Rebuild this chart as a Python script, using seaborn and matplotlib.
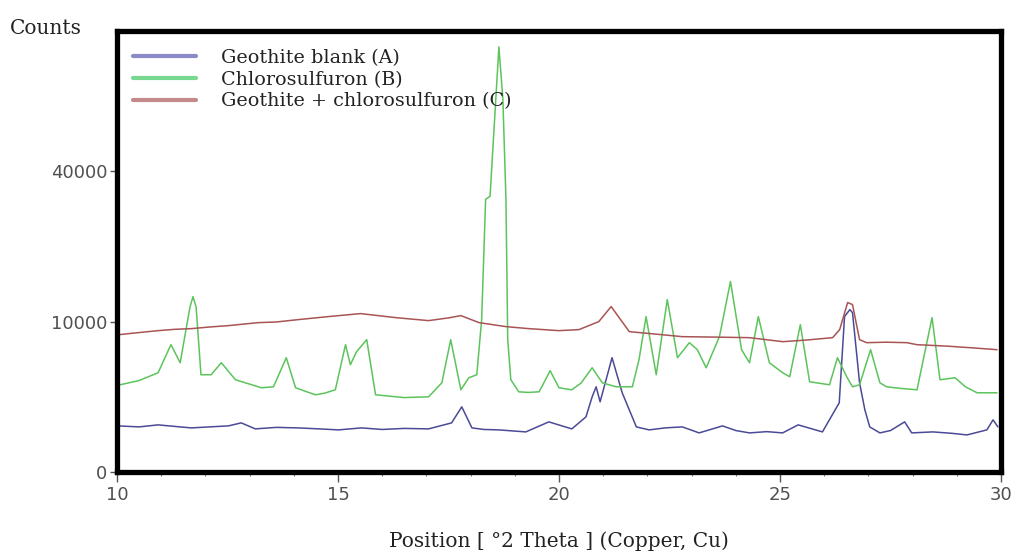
import numpy as np
import pandas as pd
import matplotlib
matplotlib.use("Agg")
import matplotlib.pyplot as plt
import seaborn as sns
from matplotlib.lines import Line2D
from matplotlib.ticker import MultipleLocator

# ---- data (2theta in degrees, intensity in counts) ----
theta_a = [10.02, 10.50, 10.93, 11.30, 11.68, 12.10, 12.52, 12.81, 13.13, 13.60, 14.10, 14.60,
           15.01, 15.53, 16.00, 16.50, 17.05, 17.57, 17.80, 18.03, 18.30, 18.64, 19.00, 19.25,
           19.77, 20.29, 20.61, 20.75, 20.84, 20.93, 21.20, 21.43, 21.75, 22.04, 22.40, 22.79,
           23.17, 23.70, 24.00, 24.31, 24.70, 25.06, 25.41, 25.96, 26.34, 26.46, 26.58, 26.64,
           26.80, 26.92, 27.03, 27.26, 27.50, 27.82, 27.98, 28.46, 28.90, 29.23, 29.68, 29.82, 29.93]
counts_a = [940, 900, 982, 920, 860, 900, 940, 1067, 822, 880, 860, 820,
            784, 860, 800, 840, 822, 1067, 1878, 860, 800, 784, 740, 711,
            1111, 822, 1344, 2500, 3211, 2178, 5776, 2774, 900, 784, 860, 900,
            676, 940, 760, 676, 720, 676, 982, 711, 2116, 10678, 11664, 11236,
            3520, 1708, 900, 676, 760, 1111, 676, 711, 660, 608, 784, 1202, 900]

theta_b = [10.07, 10.50, 10.93, 11.22, 11.43, 11.65, 11.72, 11.79, 11.90, 12.13, 12.36, 12.68, 13.27, 13.54,
           13.83, 14.04, 14.49, 14.70, 14.94, 15.17, 15.28, 15.42, 15.65, 15.85, 16.50, 17.05, 17.35,
           17.55, 17.78, 17.96, 18.14, 18.25, 18.34, 18.44, 18.53, 18.64, 18.73, 18.80, 18.84, 18.91,
           19.09, 19.30, 19.55, 19.80, 20.00, 20.29, 20.50, 20.75, 20.98, 21.29, 21.66, 21.81, 21.97,
           22.20, 22.45, 22.68, 22.95, 23.13, 23.33, 23.63, 23.88, 24.13, 24.31, 24.51, 24.76, 25.06,
           25.22, 25.46, 25.67, 26.12, 26.30, 26.51, 26.64, 26.80, 27.05, 27.26, 27.41, 27.70, 28.10,
           28.44, 28.62, 28.96, 29.20, 29.46, 29.91]
counts_b = [3364, 3700, 4356, 7168, 5280, 12000, 13611, 12000, 4182, 4182, 5280, 3762, 3136, 3211,
            5776, 3136, 2635, 2750, 2988, 7168, 5088, 6400, 7744, 2635, 2450, 2500, 3520,
            7744, 2988, 3927, 4182, 10268, 32882, 33611, 51984, 79900, 61504, 32882, 7744, 3762,
            2844, 2800, 2844, 4534, 3136, 2988, 3500, 4807, 3520, 3211, 3211, 5575, 10678,
            4182, 13148, 5776, 7396, 6615, 4807, 8100, 16044, 6615, 5280, 10678, 5280, 4356,
            4011, 9604, 3600, 3364, 5776, 4011, 3211, 3364, 6615, 3520, 3211, 3100, 2988,
            10540, 3762, 3927, 3200, 2774, 2774]

theta_c = [10.05, 10.50, 10.93, 11.30, 11.68, 12.10, 12.52, 13.20, 13.60, 14.10, 14.78, 15.51, 16.30,
           17.05, 17.50, 17.78, 18.19, 18.80, 19.32, 20.00, 20.45, 20.90, 21.18, 21.59, 22.20, 22.79,
           23.50, 24.31, 25.06, 25.60, 26.19, 26.35, 26.53, 26.64, 26.80, 26.96, 27.40, 27.87, 28.10,
           28.80, 29.40, 29.91]
counts_c = [8342, 8600, 8836, 9000, 9088, 9300, 9474, 9867, 9950, 10268, 10678, 11095, 10540,
            10134, 10500, 10816, 9867, 9344, 9088, 8836, 8962, 10000, 12100, 8711, 8400, 8100,
            8050, 7980, 7511, 7700, 7980, 8962, 12694, 12395, 7744, 7396, 7450, 7396, 7168,
            7000, 6800, 6615]

series_names = ["Geothite blank (A)", "Chlorosulfuron (B)", "Geothite + chlorosulfuron (C)"]
line_colors = ["#4a4a96", "#5cc45c", "#a85454"]
legend_colors = ["#8a8ac8", "#78d890", "#c48a8a"]

y_ticks = [0, 10000, 40000]
x_ticks = [10, 15, 20, 25, 30]

# ---- plotting ----
sns.set_style("white")
plt.rcParams["font.family"] = ["DejaVu Serif"]

fig = plt.figure(figsize=(10.12, 5.6), dpi=100)
ax = fig.add_axes([117 / 1012, 1 - 472 / 560, (1001 - 117) / 1012, (472 - 31) / 560])

for th, ct, col in [(theta_a, counts_a, line_colors[0]),
                    (theta_b, counts_b, line_colors[1]),
                    (theta_c, counts_c, line_colors[2])]:
    df = pd.DataFrame({"theta": th, "counts": ct})
    sns.lineplot(data=df, x="theta", y="counts", color=col, lw=1.1, ax=ax, sort=False)

ax.set_yscale("function", functions=(lambda v: np.sqrt(np.clip(v, 0, None)), lambda v: np.square(v)))
ax.set_xlim(10, 30)
ax.set_ylim(0, 86000)
ax.set_yticks(y_ticks)
ax.set_yticklabels([str(t) for t in y_ticks])
ax.set_xticks(x_ticks)
ax.set_xticklabels([str(t) for t in x_ticks])
ax.xaxis.set_minor_locator(MultipleLocator(1))
ax.yaxis.set_minor_locator(matplotlib.ticker.NullLocator())

for lab in ax.get_xticklabels() + ax.get_yticklabels():
    lab.set_family(["DejaVu Sans"])
    lab.set_fontsize(13)
    lab.set_color("#505050")
ax.tick_params(axis="x", which="major", direction="out", length=7, width=1, color="#555555", pad=3, bottom=True)
ax.tick_params(axis="x", which="minor", direction="out", length=3, width=0.8, color="#777777", bottom=True)
ax.tick_params(axis="y", which="major", direction="out", length=5, width=1, color="#555555", pad=2, left=True)

for sp in ax.spines.values():
    sp.set_linewidth(3.8)
    sp.set_color("black")
    sp.set_visible(True)

ax.set_xlabel("Position [ °2 Theta ] (Copper, Cu)", fontsize=14.5, labelpad=20, color="#222222")
ax.set_ylabel("")
fig.text(10 / 1012, 1 - 28 / 560, "Counts", fontsize=14.5, va="center", ha="left", color="#222222")

handles = [Line2D([0], [0], color=c, lw=3) for c in legend_colors]
leg = ax.legend(handles, series_names, loc="upper left", bbox_to_anchor=(0.003, 0.99),
                frameon=False, fontsize=13.8, handlelength=3.3, handletextpad=1.3,
                labelspacing=0.2, borderaxespad=0.3)
for t in leg.get_texts():
    t.set_color("#222222")

fig.savefig("out.png", dpi=100)
